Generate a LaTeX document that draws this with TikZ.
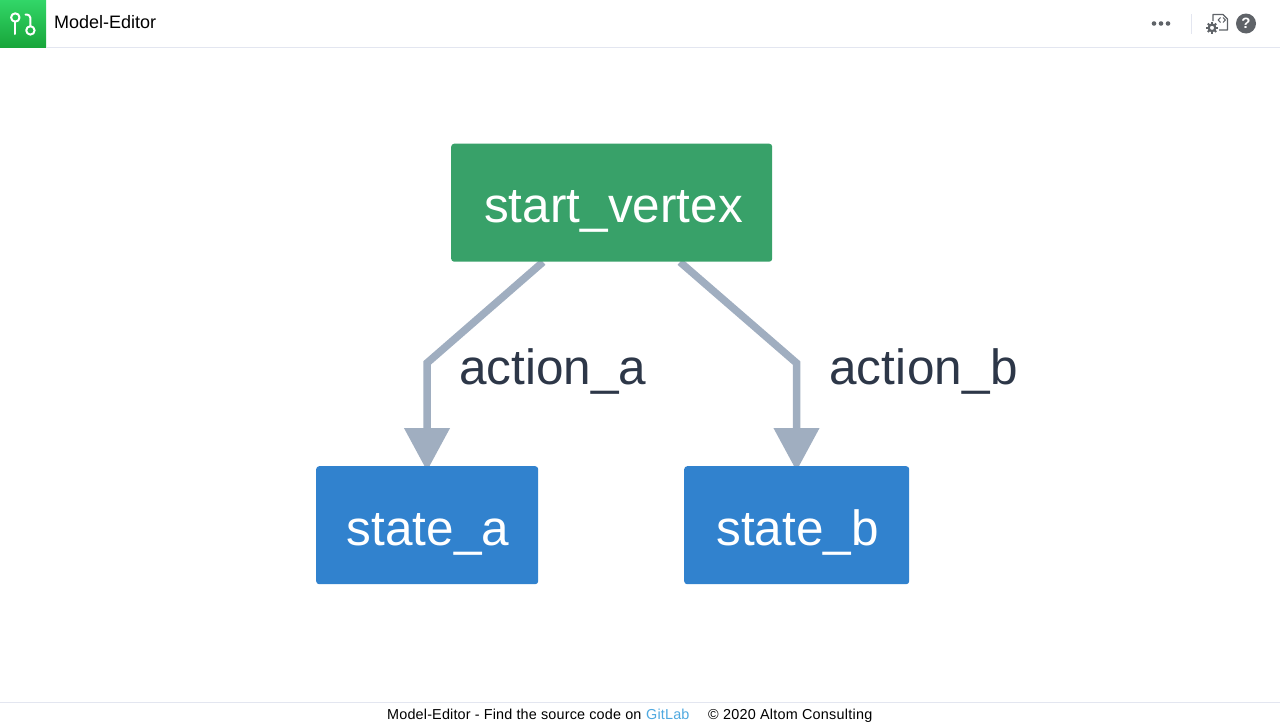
\documentclass[tikz,border=0pt]{standalone}
\usepackage{fontspec}
\setmainfont{Liberation Sans}
\usetikzlibrary{arrows.meta,backgrounds}
\definecolor{startgreen}{HTML}{38A169}
\definecolor{stateblue}{HTML}{3182CE}
\definecolor{edgegrey}{HTML}{A0AEC0}
\definecolor{labelink}{HTML}{2D3748}
\definecolor{rulegrey}{HTML}{E3E6F0}
\definecolor{icongrey}{HTML}{5F6368}
\definecolor{linkblue}{HTML}{4FA9E0}
\definecolor{logotop}{HTML}{32D668}
\definecolor{logobottom}{HTML}{18A63A}
\tikzset{
  x=1pt,y=-1pt,
  vertexbox/.style={inner sep=0pt,rounded corners=3pt,anchor=north west},
  vertexlabel/.style={inner sep=0pt,text=white,font=\fontsize{49.5}{50}\selectfont,anchor=base},
  edgeline/.style={draw=edgegrey,line width=7.5pt,line join=miter,-{Triangle[width=44pt,length=43pt]}},
  edgelabel/.style={text=labelink,font=\fontsize{49.5}{50}\selectfont,inner sep=0pt,anchor=base west},
  footertext/.style={font=\fontsize{14.4}{16}\selectfont\addfontfeature{LetterSpace=1.2},inner sep=0pt,anchor=base west},
  rulegreyline/.style={draw=rulegrey,line width=1pt},
}
\begin{document}
\begin{tikzpicture}
\useasboundingbox (0,0) rectangle (1280,726);
\begin{scope}[on background layer]
  \fill[white] (0,0) rectangle (1280,726);
\end{scope}
% header
\shade[top color=logotop,bottom color=logobottom] (0,0) rectangle (46,47);
\draw[rulegreyline] (46,47.5) -- (1280,47.5);
\begin{scope}[color=white,line width=2pt,line cap=round,line join=round]
  \draw (15.3,17.5) circle[radius=4.2];
  \draw (15.3,21.7) -- (15.3,34);
  \draw (30.4,30.4) circle[radius=4.2];
  \draw (30.4,26.2) -- (30.4,18) .. controls (30.4,16) and (29,14.5) .. (25.5,14.5);
\end{scope}
\node[anchor=base west,inner sep=0pt,font=\fontsize{18}{20}\selectfont] (title) at (54,28.5) {Model-Editor};
\foreach \px in {1154,1161,1168} \fill[icongrey] (\px,23.5) circle[radius=2.3];
\draw[rulegrey] (1191.5,14) -- (1191.5,34);
\draw[icongrey,line width=1.1pt,line join=round] (1213,21) -- (1213,14.5) -- (1223,14.5) -- (1227.5,19) -- (1227.5,30) -- (1219,30);
\draw[icongrey,line width=1pt] (1220.5,17.5) -- (1218.2,20) -- (1220.5,22.5) (1223,17.5) -- (1225.3,20) -- (1223,22.5);
\foreach \a in {0,45,...,315} \draw[icongrey,line width=2pt] (1212,27.8) ++(\a:3.6) -- ++(\a:2.3);
\draw[icongrey,line width=2.2pt] (1212,27.8) circle[radius=3.3];
\fill[icongrey] (1246,23.5) circle[radius=10];
\node[inner sep=0pt,text=white,font=\fontsize{15}{15}\selectfont\bfseries] (help) at (1246,23.5) {?};
% diagram nodes
\node[vertexbox,fill=startgreen,minimum width=321pt,minimum height=118pt] (start) at (451,143.5) {};
\node[vertexbox,fill=stateblue,minimum width=222pt,minimum height=118pt] (sa) at (316,466) {};
\node[vertexbox,fill=stateblue,minimum width=225pt,minimum height=118pt] (sb) at (684,466) {};
\node[vertexlabel] (startlabel) at (613.5,222) {start\_vertex};
\node[vertexlabel] (salabel) at (428,545) {state\_a};
\node[vertexlabel] (sblabel) at (797.5,545) {state\_b};
\coordinate (sa-bend) at (427,363);
\coordinate (sb-bend) at (796.5,363);
\coordinate (sa-out) at (543,262);
\coordinate (sb-out) at (680,262);
\coordinate (sa-in) at (427,471);
\coordinate (sb-in) at (796.5,471);
\begin{scope}[on background layer]
  \draw[edgeline] (sa-out) -- (sa-bend) -- (sa-in);
  \draw[edgeline] (sb-out) -- (sb-bend) -- (sb-in);
\end{scope}
\node[edgelabel] (la) at (459,384) {action\_a};
\node[edgelabel] (lb) at (829,384) {\addfontfeature{LetterSpace=0.5}action\_b};
% footer
\draw[rulegreyline] (0,702.5) -- (1280,702.5);
\node[footertext] (foot1) at (387,719) {Model-Editor - Find the source code on};
\node[footertext,text=linkblue] (foot2) at (646,719) {GitLab};
\node[footertext] (foot3) at (708,719) {\addfontfeature{LetterSpace=1.7}© 2020 Altom Consulting};
\end{tikzpicture}
\end{document}
